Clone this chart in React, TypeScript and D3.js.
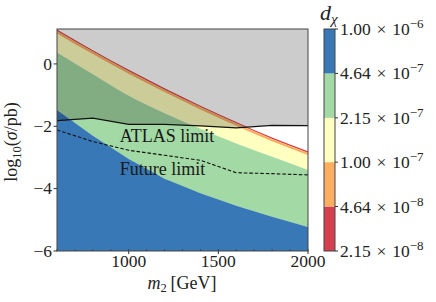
import { useEffect, useRef } from "react"
import * as d3 from "d3"

// m2 grid (GeV)
const masses = [600, 800, 1000, 1200, 1400, 1600, 1800, 2000]

// upper edge of each d_chi band, log10(sigma/pb)
const blueTop = [-1.48, -2.3, -3.05, -3.68, -4.15, -4.55, -4.9, -5.23]
const greenTop = [0.37, -0.33, -1.02, -1.58, -2.08, -2.55, -2.98, -3.4]
const yellowTop = [0.97, 0.31, -0.32, -0.91, -1.47, -1.99, -2.49, -2.93]
const orangeTop = [1.055, 0.395, -0.235, -0.825, -1.385, -1.905, -2.405, -2.845]
const redTop = [1.1, 0.44, -0.19, -0.78, -1.34, -1.86, -2.36, -2.8]

// exclusion limits
const atlasLimit = [-1.82, -1.74, -1.94, -1.94, -1.99, -2.05, -1.97, -1.98]
const futureLimit = [-2.12, -2.49, -2.77, -2.93, -3.09, -3.49, -3.52, -3.56]

// colorbar
const levels = [2.15e-8, 4.64e-8, 1e-7, 2.15e-7, 4.64e-7, 1e-6]
const bandColors = ["#d6404e", "#fdae61", "#ffffbf", "#a3d9a4", "#3878b6"]

const xTicks = [1000, 1500, 2000]
const yTicks = [0, -2, -4, -6]

const font = "'Liberation Serif', 'DejaVu Serif', serif"

export default function App() {
  const svgRef = useRef<SVGSVGElement>(null)

  useEffect(() => {
    if (!svgRef.current) return
    const svg = d3.select(svgRef.current)
    svg.selectAll("*").remove()

    const left = 57
    const right = 308
    const top = 29
    const bottom = 251

    const x = d3.scaleLinear().domain([600, 2000]).range([left, right])
    const y = d3.scaleLinear().domain([-6, 1.12]).range([bottom, top])

    svg
      .append("defs")
      .append("clipPath")
      .attr("id", "plot-clip")
      .append("rect")
      .attr("x", left)
      .attr("y", top)
      .attr("width", right - left)
      .attr("height", bottom - top)

    const plot = svg.append("g").attr("clip-path", "url(#plot-clip)")

    const floor = masses.map(() => -6.5)
    const bands = [
      { lo: floor, hi: blueTop, color: bandColors[4], curve: d3.curveLinear },
      { lo: blueTop, hi: greenTop, color: bandColors[3], curve: d3.curveMonotoneX },
      { lo: greenTop, hi: yellowTop, color: bandColors[2], curve: d3.curveMonotoneX },
      { lo: yellowTop, hi: orangeTop, color: bandColors[1], curve: d3.curveMonotoneX },
      { lo: orangeTop, hi: redTop, color: bandColors[0], curve: d3.curveMonotoneX },
    ]

    // draw from top band down so the lower bands' edges sit on top
    bands
      .slice()
      .reverse()
      .forEach((b) => {
        const area = d3
          .area<number>()
          .x((m) => x(m))
          .y0((_, i) => y(b.lo[i]))
          .y1((_, i) => y(b.hi[i]))
          .curve(b.curve)
        plot.append("path").datum(masses).attr("d", area).attr("fill", b.color)
      })

    // grey shading above the ATLAS limit
    const excluded = d3
      .area<number>()
      .x((m) => x(m))
      .y0((_, i) => y(atlasLimit[i]))
      .y1(() => y(2))
    plot.append("path").datum(masses).attr("d", excluded).attr("fill", "#000").attr("fill-opacity", 0.2)

    const line = (vals: number[]) =>
      d3
        .line<number>()
        .x((m) => x(m))
        .y((_, i) => y(vals[i]))(masses)

    plot.append("path").attr("d", line(atlasLimit)).attr("fill", "none").attr("stroke", "#111").attr("stroke-width", 1.2)
    plot
      .append("path")
      .attr("d", line(futureLimit))
      .attr("fill", "none")
      .attr("stroke", "#111")
      .attr("stroke-width", 1.1)
      .attr("stroke-dasharray", "3.5,2")

    // annotations
    plot
      .append("text")
      .attr("x", x(950))
      .attr("y", y(-2.5))
      .attr("font-family", font)
      .attr("font-size", 18)
      .attr("fill", "#1a1a1a")
      .text("ATLAS limit")
    plot
      .append("text")
      .attr("x", x(950))
      .attr("y", y(-3.56))
      .attr("font-family", font)
      .attr("font-size", 18)
      .attr("fill", "#1a1a1a")
      .text("Future limit")

    // frame
    svg
      .append("rect")
      .attr("x", left)
      .attr("y", top)
      .attr("width", right - left)
      .attr("height", bottom - top)
      .attr("fill", "none")
      .attr("stroke", "#444")
      .attr("stroke-width", 1)

    // y ticks
    const yAxis = svg.append("g").attr("font-family", font).attr("font-size", 17.5)
    yTicks.forEach((t) => {
      yAxis.append("line").attr("x1", left - 3.5).attr("x2", left).attr("y1", y(t)).attr("y2", y(t)).attr("stroke", "#333")
      yAxis
        .append("text")
        .attr("x", left - 5)
        .attr("y", y(t))
        .attr("dy", "0.33em")
        .attr("text-anchor", "end")
        .attr("fill", "#222")
        .text(t < 0 ? `\u2212${-t}` : `${t}`)
    })

    // x ticks: minor every 100 GeV, labels on majors
    const xAxis = svg.append("g").attr("font-family", font).attr("font-size", 17.5)
    d3.range(600, 2001, 100).forEach((m) => {
      xAxis.append("line").attr("x1", x(m)).attr("x2", x(m)).attr("y1", bottom).attr("y2", bottom - 2).attr("stroke", "#444")
    })
    xTicks.forEach((t) => {
      xAxis.append("line").attr("x1", x(t)).attr("x2", x(t)).attr("y1", bottom).attr("y2", bottom + 3).attr("stroke", "#333")
      xAxis
        .append("text")
        .attr("x", x(t))
        .attr("y", 267)
        .attr("text-anchor", "middle")
        .attr("fill", "#222")
        .text(t)
    })

    // axis labels
    const xl = svg
      .append("text")
      .attr("x", 182)
      .attr("y", 289)
      .attr("text-anchor", "middle")
      .attr("font-family", font)
      .attr("font-size", 18)
      .attr("fill", "#222")
    xl.append("tspan").attr("font-style", "italic").text("m")
    xl.append("tspan").attr("font-size", 12.5).attr("dy", 3).text("2")
    xl.append("tspan").attr("dy", -3).text("\u2009[GeV]")

    const yl = svg
      .append("text")
      .attr("transform", `translate(17,142) rotate(-90)`)
      .attr("text-anchor", "middle")
      .attr("font-family", font)
      .attr("font-size", 18)
      .attr("fill", "#222")
    yl.append("tspan").text("log")
    yl.append("tspan").attr("font-size", 12.5).attr("dy", 4).text("10")
    yl.append("tspan").attr("dy", -4).text("(")
    yl.append("tspan").attr("font-style", "italic").text("\u03c3")
    yl.append("tspan").text("/pb)")

    // colorbar
    const cbL = 324
    const cbR = 335
    const c = d3.scaleLog().domain([levels[0], levels[levels.length - 1]]).range([bottom, top])
    const cb = svg.append("g")
    bandColors.forEach((col, i) => {
      cb.append("rect")
        .attr("x", cbL)
        .attr("y", c(levels[i + 1]))
        .attr("width", cbR - cbL)
        .attr("height", c(levels[i]) - c(levels[i + 1]))
        .attr("fill", col)
    })
    cb.append("rect")
      .attr("x", cbL)
      .attr("y", top)
      .attr("width", cbR - cbL)
      .attr("height", bottom - top)
      .attr("fill", "none")
      .attr("stroke", "#444")
    levels.forEach((v) => {
      const exp = Math.floor(Math.log10(v) + 1e-9)
      const mant = (v / Math.pow(10, exp)).toFixed(2)
      cb.append("line").attr("x1", cbR).attr("x2", cbR + 3).attr("y1", c(v)).attr("y2", c(v)).attr("stroke", "#333")
      const t = cb
        .append("text")
        .attr("x", 340)
        .attr("y", c(v) + 6)
        .attr("font-family", font)
        .attr("font-size", 17.5)
        .attr("fill", "#222")
      t.append("tspan").text(`${mant}\u2004\u00d7\u200410`)
      t.append("tspan").attr("font-size", 13).attr("dy", -7).text(`\u2212${-exp}`)
    })

    const title = svg
      .append("text")
      .attr("x", 320)
      .attr("y", 20)
      .attr("font-family", font)
      .attr("font-size", 22)
      .attr("fill", "#222")
    title.append("tspan").attr("font-style", "italic").text("d")
    title.append("tspan").attr("font-style", "italic").attr("font-size", 15).attr("dy", 4).text("\u03c7")
  }, [])

  return (
    <div style={{ position: "absolute", left: 0, top: 0, width: 436, height: 302, background: "#fff" }}>
      <svg ref={svgRef} width={436} height={302} style={{ display: "block" }} />
    </div>
  )
}
